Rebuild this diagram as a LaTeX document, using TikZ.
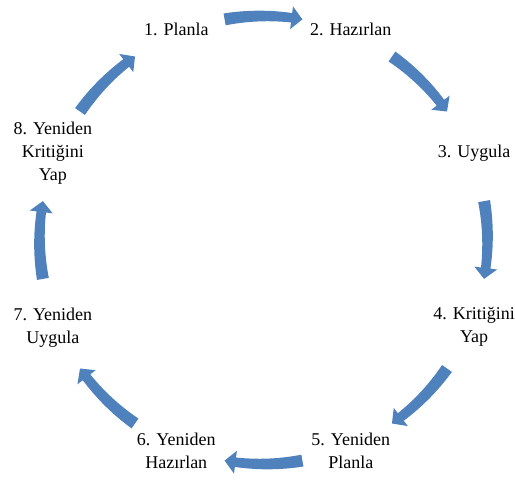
\documentclass[tikz,border=0pt]{standalone}
\usepackage{fontspec}
\setmainfont{Liberation Serif}
\definecolor{arrowblue}{RGB}{79,129,189}
\tikzset{
  steptext/.style={font=\fontsize{18}{23}\selectfont, align=center, inner sep=0pt, text=black},
  cyclearrow/.style={fill=arrowblue, draw=none}
}
\begin{document}
\begin{tikzpicture}[x=1pt,y=1pt]
\useasboundingbox (0,0) rectangle (515,480);
\begin{scope}[shift={(263.5,240)}]
  \node[steptext] (n1) at (112.5:228) {1. Planla};
  \node[steptext] (n2) at (67.5:228) {2. Hazırlan};
  \node[steptext] (n3) at (22.5:228) {3. Uygula};
  \node[steptext] (n4) at (-22.5:228) {4. Kritiğini\\Yap};
  \node[steptext] (n5) at (-67.5:228) {5. Yeniden\\Planla};
  \node[steptext] (n6) at (-112.5:228) {6. Yeniden\\Hazırlan};
  \node[steptext] (n7) at (-157.5:228) {7. Yeniden\\Uygula};
  \node[steptext] (n8) at (157.5:228) {8. Yeniden\\Kritiğini\\Yap};
  \foreach \m in {90,45,0,-45,-90,-135,180,135}{
    \pgfmathsetmacro\ta{\m+10}
    \pgfmathsetmacro\tb{\m-7.2}
    \pgfmathsetmacro\tc{\m-10}
    \fill[cyclearrow]
      plot[domain=\ta:\tb,samples=30] (\x:{224+6-1.25*(\ta-(\x))/17.2})
      -- (\tb:235.5) -- (\tc:224) -- (\tb:212.5)
      -- plot[domain=\tb:\ta,samples=30] (\x:{224-6+1.25*(\ta-(\x))/17.2})
      -- cycle;
  }
\end{scope}
\end{tikzpicture}
\end{document}
